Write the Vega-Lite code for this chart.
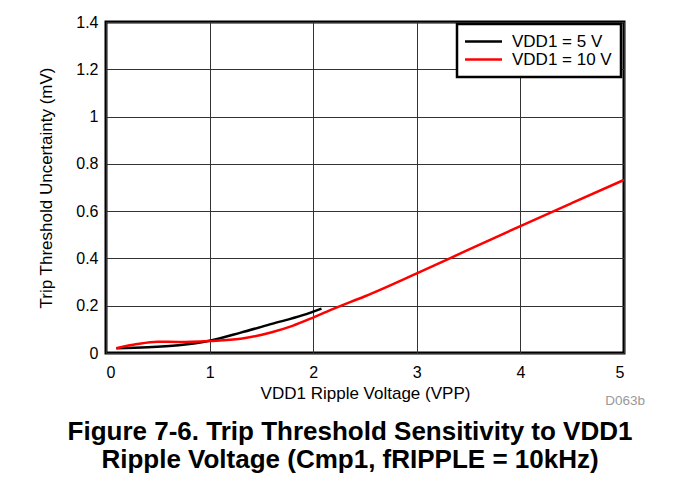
{
  "$schema": "https://vega.github.io/schema/vega-lite/v6.json",
  "autosize": "none",
  "width": 518,
  "height": 331,
  "padding": {"left": 106, "top": 22, "right": 50, "bottom": 130},
  "background": "white",
  "config": {
    "font": "Liberation Sans",
    "view": {"stroke": "black", "strokeWidth": 3},
    "axis": {
      "domain": false,
      "ticks": false,
      "grid": true,
      "gridColor": "#333333",
      "gridWidth": 1,
      "gridOpacity": 1,
      "labelFontSize": 16,
      "labelColor": "black",
      "titleFontSize": 17,
      "titleFontWeight": "normal",
      "titleColor": "black"
    }
  },
  "title": {
    "text": ["Figure 7-6. Trip Threshold Sensitivity to VDD1", "Ripple Voltage (Cmp1, fRIPPLE = 10kHz)"],
    "orient": "bottom",
    "anchor": "middle",
    "fontSize": 26,
    "fontWeight": "bold",
    "color": "black",
    "lineHeight": 28.5,
    "dx": -15,
    "offset": 11
  },
  "datasets": {
    "curves": [
      {"v": 0.1, "u": 0.02, "s": "VDD1 = 5 V"},
      {"v": 0.4, "u": 0.024, "s": "VDD1 = 5 V"},
      {"v": 0.7, "u": 0.033, "s": "VDD1 = 5 V"},
      {"v": 1.0, "u": 0.052, "s": "VDD1 = 5 V"},
      {"v": 1.3, "u": 0.086, "s": "VDD1 = 5 V"},
      {"v": 1.6, "u": 0.123, "s": "VDD1 = 5 V"},
      {"v": 1.9, "u": 0.16, "s": "VDD1 = 5 V"},
      {"v": 2.08, "u": 0.188, "s": "VDD1 = 5 V"},
      {"v": 0.1, "u": 0.02, "s": "VDD1 = 10 V"},
      {"v": 0.3, "u": 0.038, "s": "VDD1 = 10 V"},
      {"v": 0.5, "u": 0.048, "s": "VDD1 = 10 V"},
      {"v": 0.7, "u": 0.047, "s": "VDD1 = 10 V"},
      {"v": 1.0, "u": 0.051, "s": "VDD1 = 10 V"},
      {"v": 1.3, "u": 0.06, "s": "VDD1 = 10 V"},
      {"v": 1.6, "u": 0.088, "s": "VDD1 = 10 V"},
      {"v": 1.8, "u": 0.115, "s": "VDD1 = 10 V"},
      {"v": 2.0, "u": 0.15, "s": "VDD1 = 10 V"},
      {"v": 2.2, "u": 0.188, "s": "VDD1 = 10 V"},
      {"v": 2.5, "u": 0.24, "s": "VDD1 = 10 V"},
      {"v": 3.0, "u": 0.337, "s": "VDD1 = 10 V"},
      {"v": 3.5, "u": 0.437, "s": "VDD1 = 10 V"},
      {"v": 4.0, "u": 0.537, "s": "VDD1 = 10 V"},
      {"v": 4.5, "u": 0.635, "s": "VDD1 = 10 V"},
      {"v": 5.0, "u": 0.732, "s": "VDD1 = 10 V"}
    ],
    "note": [{"v": 5, "u": 0, "label": "D063b"}]
  },
  "layer": [
    {
      "data": {"name": "curves"},
      "mark": {"type": "line", "strokeWidth": 2.5, "interpolate": "monotone", "clip": true},
      "encoding": {
        "x": {
          "field": "v", "type": "quantitative",
          "scale": {"domain": [0, 5], "nice": false},
          "axis": {"values": [0, 1, 2, 3, 4, 5], "format": "~g", "title": "VDD1 Ripple Voltage (VPP)", "labelPadding": 11, "titlePadding": 5}
        },
        "y": {
          "field": "u", "type": "quantitative",
          "scale": {"domain": [0, 1.4], "nice": false},
          "axis": {"values": [0, 0.2, 0.4, 0.6, 0.8, 1, 1.2, 1.4], "format": "~g", "title": "Trip Threshold Uncertainty (mV)", "labelPadding": 8, "titlePadding": 20}
        },
        "color": {
          "field": "s", "type": "nominal",
          "scale": {"domain": ["VDD1 = 5 V", "VDD1 = 10 V"], "range": ["black", "#ff0000"]},
          "legend": {
            "title": null,
            "orient": "none",
            "legendX": 351,
            "legendY": 2,
            "symbolType": "M-4.75,0H13.75",
            "symbolSize": 16,
            "symbolStrokeWidth": 2.5,
            "labelFontSize": 17,
            "labelColor": "black",
            "labelOffset": 29,
            "strokeColor": "black",
            "fillColor": "white",
            "padding": 9,
            "rowPadding": 0,
            "encode": {"legend": {"update": {"strokeWidth": {"value": 2.5}}}}
          }
        }
      }
    },
    {
      "data": {"name": "note"},
      "mark": {"type": "text", "align": "right", "baseline": "middle", "dy": 48, "dx": 21, "fontSize": 13.5, "color": "#999999"},
      "encoding": {
        "x": {"field": "v", "type": "quantitative"},
        "y": {"field": "u", "type": "quantitative"},
        "text": {"field": "label"}
      }
    }
  ]
}
